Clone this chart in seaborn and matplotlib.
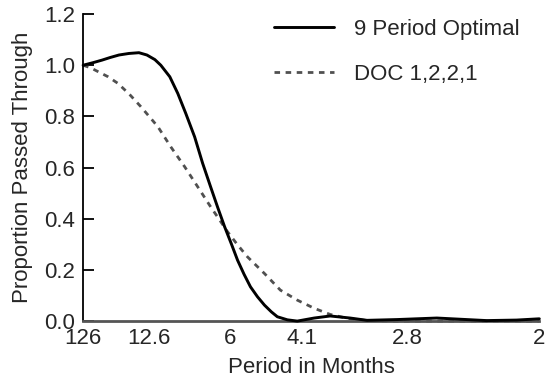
import matplotlib
matplotlib.use("Agg")
import matplotlib.pyplot as plt
import seaborn as sns
import pandas as pd

# Frequency (cycles per month) and proportion passed
opt_freq = [0.0079, 0.0186, 0.0283, 0.0369, 0.0466, 0.0573, 0.0681, 0.0767, 0.0853,
            0.0917, 0.1014, 0.1100, 0.1186, 0.1282, 0.1368, 0.1454, 0.1530, 0.1605,
            0.1680, 0.1745, 0.1815, 0.1884, 0.1960, 0.2035, 0.2110, 0.2174, 0.2282,
            0.2389, 0.2480, 0.2572, 0.2744, 0.2959, 0.3141, 0.3464, 0.3894, 0.4431,
            0.4754, 0.5000]
opt_vals = [1.000, 1.010, 1.020, 1.030, 1.040, 1.046, 1.049, 1.040, 1.022,
            1.000, 0.955, 0.890, 0.812, 0.720, 0.617, 0.525, 0.445, 0.369,
            0.300, 0.238, 0.183, 0.134, 0.095, 0.0625, 0.036, 0.017, 0.005,
            0.000, 0.006, 0.012, 0.020, 0.012, 0.003, 0.006, 0.012, 0.002,
            0.004, 0.009]

doc_freq = [0.0079, 0.0160, 0.0240, 0.0348, 0.0455, 0.0580, 0.0702, 0.0885, 0.1025,
            0.1175, 0.1315, 0.1454, 0.1550, 0.1637, 0.1745, 0.1852, 0.2035,
            0.2207, 0.2389, 0.2572, 0.2744, 0.2927, 0.3141, 0.3464, 0.4001, 0.5000]
doc_vals = [1.000, 0.990, 0.975, 0.955, 0.929, 0.886, 0.838, 0.760, 0.681,
            0.603, 0.525, 0.447, 0.396, 0.349, 0.298, 0.251, 0.186,
            0.121, 0.082, 0.050, 0.026, 0.011, 0.002, 0.000, 0.000, 0.000]

period_ticks = [126, 12.6, 6, 4.1, 2.8, 2]
period_labels = ["126", "12.6", "6", "4.1", "2.8", "2"]
y_ticks = [0.0, 0.2, 0.4, 0.6, 0.8, 1.0, 1.2]

sns.set_style("white")
plt.rcParams["font.family"] = ["Liberation Sans", "DejaVu Sans"]

fig = plt.figure(figsize=(5.47, 3.80), dpi=100)
ax = fig.add_axes([0.152, 0.155, 0.834, 0.808])

df_opt = pd.DataFrame({"freq": opt_freq, "val": opt_vals})
df_doc = pd.DataFrame({"freq": doc_freq, "val": doc_vals})

sns.lineplot(data=df_doc, x="freq", y="val", ax=ax, color="#505050", lw=2.0,
             label="DOC 1,2,2,1", zorder=2)
ax.lines[-1].set_dashes([2.0, 2.0])
sns.lineplot(data=df_opt, x="freq", y="val", ax=ax, color="black", lw=2.1,
             label="9 Period Optimal", zorder=3)
for ln in ax.lines:
    ln.set_solid_joinstyle("round")
    ln.set_clip_on(False)

ax.set_xlim(1 / 126, 0.5)
ax.set_ylim(0, 1.2)
ax.set_xticks([1 / p for p in period_ticks])
ax.set_xticklabels(period_labels)
ax.set_yticks(y_ticks)
ax.set_yticklabels([f"{v:.1f}" for v in y_ticks])
ax.tick_params(axis="x", bottom=True, length=0, pad=5, labelsize=16)
ax.tick_params(axis="y", left=True, direction="in", length=8, width=1.3,
               color="black", pad=6, labelsize=16)

for s in ["top", "right"]:
    ax.spines[s].set_visible(False)
ax.spines["left"].set_color("black")
ax.spines["left"].set_linewidth(1.3)
ax.spines["bottom"].set_color("#555555")
ax.spines["bottom"].set_linewidth(2.0)

ax.set_xlabel("Period in Months", fontsize=16, labelpad=6)
ax.set_ylabel("Proportion Passed Through", fontsize=16, labelpad=8)

handles, labels = ax.get_legend_handles_labels()
order = [labels.index("9 Period Optimal"), labels.index("DOC 1,2,2,1")]
ax.legend([handles[i] for i in order], [labels[i] for i in order],
          loc="upper right", bbox_to_anchor=(1.0, 1.05), frameon=False,
          fontsize=16, handlelength=2.7, labelspacing=1.1, handletextpad=0.9)

fig.savefig("out.png", dpi=100)
